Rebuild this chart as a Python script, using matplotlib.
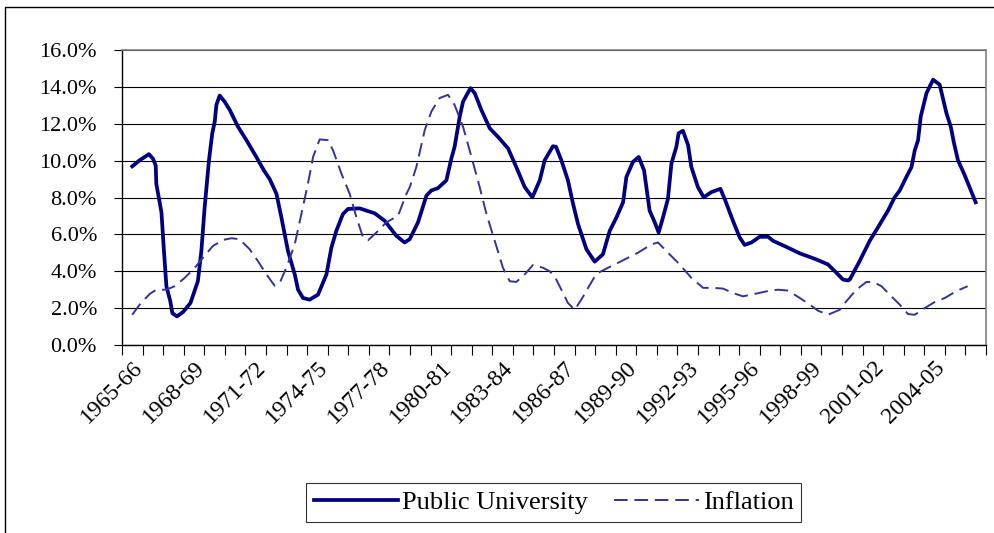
import matplotlib.pyplot as plt
import matplotlib.patches as mpatches
import numpy as np

# academic years on the category axis
years = [f"{y}-{str(y + 1)[-2:]}" for y in range(1965, 2007)]

# traced curves: position in years after 1965-66, and rate in %
pu_x = [0.0, 0.36, 0.81, 1.01, 1.14, 1.17, 1.42, 1.53, 1.66, 1.85, 1.95, 2.17,
        2.47, 2.83, 3.19, 3.36, 3.52, 3.73, 3.89, 4.01, 4.09, 4.25, 4.49, 4.74,
        5.14, 5.55, 6.03, 6.40, 6.68, 7.01, 7.25, 7.57, 7.90, 8.06, 8.30, 8.62,
        9.03, 9.44, 9.68, 9.92, 10.24, 10.49, 11.06, 11.79, 12.27, 12.84, 13.24,
        13.49, 13.89, 14.30, 14.54, 14.86, 15.27, 15.51, 15.67, 15.92, 16.08,
        16.44, 16.65, 16.97, 17.38, 17.78, 18.27, 18.67, 19.08, 19.45, 19.81,
        20.05, 20.45, 20.60, 20.86, 21.18, 21.43, 21.67, 22.08, 22.48, 22.88,
        23.21, 23.54, 23.86, 24.02, 24.34, 24.62, 24.88, 25.15, 25.40, 25.59,
        25.80, 26.04, 26.21, 26.45, 26.56, 26.77, 27.02, 27.18, 27.50, 27.78,
        28.15, 28.59, 28.80, 29.20, 29.53, 29.77, 30.10, 30.50, 30.91, 31.15,
        31.80, 32.45, 33.26, 33.82, 34.23, 34.55, 34.80, 34.88, 35.36, 35.85,
        36.25, 36.74, 37.06, 37.31, 37.63, 37.88, 38.04, 38.20, 38.33, 38.61,
        38.93, 39.25, 39.58, 39.79, 39.95, 40.14, 40.47, 41.0]
pu_rate = [9.69, 10.02, 10.35, 10.10, 9.74, 8.74, 7.19, 5.28, 3.19, 2.37, 1.73,
           1.55, 1.79, 2.28, 3.46, 5.10, 7.47, 10.02, 11.48, 12.11, 13.02, 13.53,
           13.20, 12.75, 11.84, 11.11, 10.20, 9.47, 9.00, 8.20, 6.92, 5.10, 3.83,
           3.00, 2.55, 2.46, 2.73, 3.83, 5.28, 6.19, 7.10, 7.38, 7.41, 7.14, 6.74,
           5.92, 5.56, 5.74, 6.65, 8.10, 8.38, 8.51, 8.93, 10.10, 10.75, 12.39,
           13.20, 13.93, 13.66, 12.75, 11.75, 11.29, 10.66, 9.65, 8.56, 8.01,
           8.93, 10.02, 10.78, 10.75, 10.02, 8.93, 7.65, 6.56, 5.19, 4.52, 4.92,
           6.19, 6.92, 7.74, 9.11, 9.93, 10.20, 9.47, 7.29, 6.65, 6.10, 6.92,
           7.92, 9.84, 10.75, 11.48, 11.62, 10.84, 9.65, 8.56, 8.01, 8.29, 8.47,
           7.92, 6.74, 5.83, 5.43, 5.56, 5.87, 5.87, 5.65, 5.32, 4.97, 4.64, 4.37,
           3.92, 3.55, 3.50, 3.55, 4.55, 5.65, 6.38, 7.29, 8.01, 8.38, 9.11, 9.65,
           10.56, 11.11, 12.39, 13.66, 14.39, 14.12, 12.57, 11.84, 10.93, 10.02,
           9.20, 7.74]

inf_x = [0.0, 0.36, 0.85, 1.17, 1.66, 2.06, 2.55, 3.04, 3.44, 3.92, 4.41, 4.82,
         5.22, 5.71, 6.11, 6.52, 6.92, 7.17, 7.49, 7.90, 8.22, 8.54, 8.79, 9.11,
         9.51, 9.76, 10.17, 10.57, 10.90, 11.22, 11.46, 11.87, 12.35, 12.92,
         13.33, 13.49, 13.81, 14.22, 14.54, 14.94, 15.35, 15.67, 16.08, 16.49,
         16.89, 17.22, 17.62, 18.02, 18.35, 18.67, 19.08, 19.48, 19.97, 20.29,
         20.53, 20.86, 21.18, 21.51, 21.83, 22.16, 22.56, 23.13, 23.78, 24.59,
         25.24, 25.56, 26.04, 26.61, 27.18, 27.75, 28.23, 28.72, 29.20, 29.69,
         30.26, 30.83, 31.39, 31.88, 32.45, 32.93, 33.34, 33.82, 34.39, 34.71,
         35.20, 35.69, 36.01, 36.42, 36.90, 37.31, 37.71, 38.04, 38.52, 39.01,
         39.50, 40.04, 40.61]
inf_rate = [1.64, 2.19, 2.77, 3.00, 3.00, 3.19, 3.64, 4.19, 4.74, 5.37, 5.70,
            5.79, 5.74, 5.19, 4.55, 3.83, 3.22, 3.37, 4.19, 5.46, 7.10, 8.74,
            10.20, 11.15, 11.11, 10.56, 9.29, 8.20, 6.92, 5.83, 5.68, 6.10, 6.65,
            7.01, 8.20, 8.56, 9.65, 11.66, 12.66, 13.39, 13.57, 13.02, 11.84,
            10.20, 8.56, 7.10, 5.65, 4.19, 3.46, 3.42, 3.83, 4.34, 4.19, 4.00,
            3.73, 3.00, 2.28, 1.91, 2.46, 3.10, 3.86, 4.19, 4.55, 5.01, 5.46,
            5.56, 5.01, 4.37, 3.64, 3.10, 3.10, 3.06, 2.82, 2.64, 2.77, 2.91,
            3.00, 2.95, 2.55, 2.19, 1.86, 1.64, 1.91, 2.37, 3.00, 3.42, 3.42,
            3.19, 2.64, 2.19, 1.68, 1.64, 2.00, 2.33, 2.55, 2.91, 3.19]

y_ticks = [0, 2, 4, 6, 8, 10, 12, 14, 16]

plt.rcParams["font.family"] = ["Liberation Serif", "DejaVu Serif"]

fig = plt.figure(figsize=(9.94, 5.33), dpi=100)
ax = fig.add_axes([0.1227, 0.3527, 0.8692, 0.5535])

ax.plot(pu_x, pu_rate, color="#000080", linewidth=2.7,
        solid_joinstyle="round", label="Public University")
ax.plot(inf_x, inf_rate, color="#333399", linewidth=1.4,
        linestyle=(0, (7, 3.5)), label="Inflation")

ax.set_xlim(-0.5, len(years) - 0.5)
ax.set_ylim(0, 16)
ax.set_yticks(y_ticks)
ax.set_yticklabels([f"{v:.1f}%" for v in y_ticks], fontsize=16)
ax.yaxis.grid(True, color="black", linewidth=0.8)
ax.set_axisbelow(True)

ax.set_xticks(np.arange(-0.5, len(years)), minor=True)
ax.set_xticks(np.arange(0, len(years), 3))
ax.set_xticklabels(years[::3], fontsize=17, rotation=45,
                   ha="right", rotation_mode="anchor")
ax.tick_params(axis="x", which="major", length=0, pad=9)
ax.tick_params(axis="x", which="minor", direction="out", length=7, width=0.8)
ax.tick_params(axis="y", direction="out", length=6, width=0.8, pad=12)

for side in ["top", "right"]:
    ax.spines[side].set_color("#808080")
    ax.spines[side].set_linewidth(1.2)
for side in ["left", "bottom"]:
    ax.spines[side].set_color("black")
    ax.spines[side].set_linewidth(1.0)

leg = fig.legend(loc="center", bbox_to_anchor=(0.557, 0.057), ncol=2,
                 fontsize=19, frameon=True, fancybox=False, handlelength=3.2,
                 handletextpad=0.15, columnspacing=1.0, borderpad=0.3)
leg.get_frame().set_edgecolor("black")
leg.get_frame().set_linewidth(0.8)

# outer chart-area border (runs off the right and bottom edges)
fig.patches.append(mpatches.Rectangle((0.005, -0.1), 1.2, 1.087, fill=False,
                                      edgecolor="black", linewidth=1.0,
                                      transform=fig.transFigure))

plt.savefig("out.png", dpi=100)
